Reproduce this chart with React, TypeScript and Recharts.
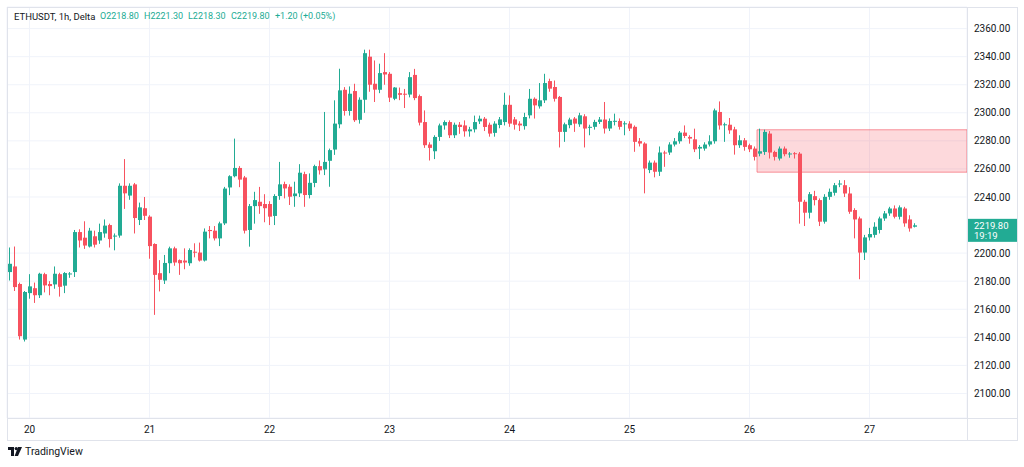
import { ComposedChart, Bar, XAxis, YAxis, CartesianGrid, ReferenceArea, ReferenceLine } from 'recharts'

// ETHUSDT 1h candles (oldest first)
const opens = [
  2186.5, 2190.5, 2178, 2138.4, 2171.5, 2175, 2170, 2185, 2178, 2177.7,
  2185, 2176.8, 2185, 2186.5, 2215, 2211, 2204.7, 2212, 2209, 2214,
  2220, 2212, 2212.5, 2248, 2241, 2249, 2223.6, 2232, 2226, 2206.5,
  2185.7, 2180.5, 2192.8, 2203.4, 2195, 2194.7, 2192.8, 2201, 2200.4, 2194.7,
  2216.5, 2216, 2210.5, 2221.2, 2246.8, 2254.8, 2260.7, 2253.9, 2216.5, 2233.5,
  2236.6, 2235, 2235, 2226.5, 2240.7, 2249.2, 2247.3, 2240.6, 2242.6, 2256.3,
  2241.4, 2250, 2262, 2259.6, 2265.8, 2273.8, 2291.8, 2316.4, 2301.3, 2315.5,
  2295, 2309.3, 2340, 2320.7, 2316.4, 2329, 2327.8, 2310, 2314, 2313.6,
  2313, 2327, 2311.9, 2293.4, 2277.4, 2272.6, 2282.8, 2291, 2293.4, 2284,
  2291.5, 2291, 2286.8, 2288.2, 2293.9, 2295.8, 2291.5, 2285.7, 2291.3, 2293.4,
  2305.7, 2295.3, 2292.3, 2290.5, 2298.2, 2310, 2304.6, 2308.9, 2322.6, 2318.4,
  2311.3, 2286.4, 2291.2, 2295.9, 2291.8, 2297.5, 2289.6, 2290, 2293.5, 2295.2,
  2288.8, 2294, 2294.2, 2292.3, 2292.3, 2290, 2279.8, 2278.1, 2259.2, 2264.5,
  2258, 2271.7, 2271.7, 2277.4, 2279.7, 2285.9, 2282.8, 2281.1, 2274.5, 2274.5,
  2277.4, 2279.7, 2300.6, 2291.5, 2291.5, 2288.2, 2276.9, 2280.4, 2276.9, 2274.5,
  2270.9, 2272.1, 2285.2, 2272.1, 2267.4, 2274.5, 2270.5, 2271.2, 2270.9, 2236.6,
  2228.8, 2240.6, 2237.8, 2222.4, 2240.1, 2243, 2249.6, 2248.4, 2242.5, 2230.7,
  2224.7, 2200.4, 2211.2, 2213, 2216.5, 2224.7, 2228.3, 2231.8, 2225.9, 2231.8,
  2224, 2218.8,
]
const highs = [
  2204, 2204.7, 2179, 2173, 2185, 2179, 2186, 2186, 2180, 2190.5,
  2186, 2186.5, 2186.5, 2216.5, 2217, 2222.7, 2218, 2216, 2221, 2224,
  2221, 2214, 2249.7, 2267, 2249.7, 2250, 2236, 2240, 2227, 2207,
  2195, 2198.7, 2204.6, 2204.6, 2195.5, 2203.4, 2203.4, 2207, 2207.5, 2217.6,
  2219.3, 2219.3, 2222.4, 2247.2, 2255.5, 2281.6, 2262, 2255, 2235, 2243.7,
  2247.2, 2242, 2237, 2242, 2265, 2250.9, 2249, 2250.9, 2263.4, 2258,
  2256.8, 2263, 2266, 2300.6, 2274.5, 2308.9, 2331.4, 2318.3, 2318.8, 2320.7,
  2311, 2345, 2345, 2337.3, 2335, 2342.5, 2329, 2318.3, 2318, 2317,
  2329, 2331.3, 2313, 2301.7, 2279, 2284, 2292.3, 2294.6, 2294.6, 2293,
  2293.4, 2294.6, 2290, 2298, 2298, 2297, 2293, 2294, 2297, 2314.3,
  2312.4, 2297, 2294, 2300, 2317, 2311, 2321.2, 2327.8, 2324.3, 2323,
  2312, 2293, 2296.5, 2297, 2300, 2299, 2291.5, 2295, 2297, 2307.7,
  2296, 2299.4, 2296, 2294, 2294, 2291, 2282, 2279, 2266, 2266,
  2276, 2273, 2279, 2282, 2287, 2291, 2284, 2288.7, 2277, 2279,
  2284, 2303, 2308.1, 2293, 2296.3, 2290, 2284, 2282, 2278, 2276,
  2288.7, 2288, 2287, 2273, 2276, 2276, 2272, 2272, 2272, 2238,
  2243.5, 2244.4, 2239, 2242, 2246, 2250, 2252, 2252, 2247, 2232,
  2226, 2213, 2218, 2222, 2226, 2230, 2233, 2234, 2234, 2233,
  2227, 2221.3,
]
const lows = [
  2180.5, 2173, 2138.4, 2137, 2167.5, 2164.5, 2168, 2172, 2170, 2174.6,
  2169, 2171.5, 2182.4, 2183, 2204, 2203, 2204, 2204, 2206.6, 2211,
  2204, 2202, 2211, 2231.5, 2238, 2214, 2220, 2223.6, 2196, 2156,
  2172.7, 2178, 2185.7, 2191, 2184.5, 2188.5, 2191, 2197, 2194, 2194,
  2210.5, 2209, 2205, 2220, 2241.3, 2254, 2247, 2214, 2204.6, 2221,
  2228, 2222, 2220, 2220, 2238, 2239, 2234.3, 2233, 2240, 2233,
  2239, 2247, 2256, 2255.6, 2247.3, 2270, 2289, 2298, 2298, 2293.5,
  2292.3, 2300, 2315, 2307.7, 2314, 2320, 2307.7, 2309, 2309, 2303.4,
  2311, 2309, 2291, 2275, 2266, 2267, 2280, 2288, 2282, 2282,
  2285, 2283, 2283, 2286, 2292, 2287, 2283, 2283, 2289, 2291,
  2290, 2288, 2287, 2288, 2296, 2295.9, 2303, 2307, 2315, 2308,
  2275.3, 2279.3, 2289, 2286.4, 2290, 2275.3, 2284, 2288, 2292, 2285.2,
  2287, 2291, 2288, 2284, 2287, 2272.2, 2276, 2242.6, 2257, 2254,
  2255, 2261.5, 2270, 2276, 2278, 2282, 2278, 2272, 2267, 2273,
  2276, 2278, 2288, 2279.3, 2285, 2270.2, 2275, 2273, 2272, 2266,
  2269, 2270, 2267.4, 2266, 2266, 2269, 2268, 2267.4, 2221, 2219.3,
  2224.7, 2234, 2219.3, 2221, 2238, 2241, 2247, 2240, 2228, 2210.5,
  2181.4, 2195.1, 2209, 2211, 2214, 2223, 2226.6, 2224.7, 2224, 2218.8,
  2215.3, 2218.3,
]
const closes = [
  2192.4, 2175.8, 2140.8, 2172.3, 2176.3, 2170, 2185.3, 2177, 2176.5, 2185.3,
  2176, 2185.8, 2185.5, 2215, 2209, 2205.4, 2216, 2206, 2215, 2219.6,
  2210, 2212.5, 2248, 2242.6, 2248, 2225, 2232.6, 2226.6, 2205, 2184.5,
  2181, 2193, 2203.4, 2193.3, 2192.8, 2193.3, 2202.2, 2200.6, 2194.7, 2215.3,
  2215.7, 2210.5, 2221.2, 2246, 2254.8, 2260.7, 2252.4, 2216, 2233.5, 2237.8,
  2233.5, 2232, 2226, 2240.7, 2249, 2246.1, 2240.2, 2242.5, 2257.3, 2241.4,
  2250.1, 2262, 2259, 2265, 2273.4, 2292.3, 2316, 2301.3, 2313.6, 2294.7,
  2309.3, 2342.5, 2320, 2316.5, 2328.3, 2327.3, 2310.8, 2318, 2312.8, 2313.4,
  2325.4, 2310.5, 2293, 2276.9, 2275, 2282.8, 2291, 2293.4, 2284, 2291.5,
  2289.9, 2286.8, 2288.2, 2293.4, 2295.8, 2289.9, 2285.2, 2292.3, 2295.3, 2305.7,
  2292.3, 2291.5, 2291, 2297, 2310, 2305.3, 2308.9, 2321.2, 2317.2, 2310,
  2286.4, 2291.8, 2295.2, 2292.3, 2298.2, 2288.8, 2290, 2293.5, 2295.2, 2288.8,
  2294.2, 2294.3, 2290, 2292.5, 2288.8, 2279.3, 2278.1, 2260.3, 2264.5, 2258,
  2271.7, 2271.2, 2277.4, 2279.7, 2285.9, 2283.5, 2281.6, 2274, 2275.7, 2277.4,
  2279.7, 2301.7, 2291, 2291.8, 2287.5, 2276.9, 2280.4, 2275.7, 2274, 2268.6,
  2272.6, 2286.4, 2271.7, 2268.6, 2274.5, 2270.5, 2271, 2271, 2236.6, 2228.8,
  2242, 2237.8, 2222.4, 2240.1, 2243.7, 2248.4, 2249.6, 2242.5, 2229.5, 2224,
  2200.4, 2211.2, 2213.6, 2218.8, 2224.7, 2228.3, 2231.8, 2225.9, 2232.6, 2221.2,
  2217.6, 2219.8,
]

// first candle of each day (00:00) and its label
const dayTicks = [4, 28, 52, 76, 100, 124, 148, 172]
const dayLabels = ['20', '21', '22', '23', '24', '25', '26', '27']
const priceTicks = [2100, 2120, 2140, 2160, 2180, 2200, 2240, 2260, 2280, 2300, 2320, 2340, 2360]
const emptySlots = 10

const lastPrice = 2219.8
const countdown = '19:19'
const zoneStart = 150
const zoneTop = 2287.9
const zoneBottom = 2257.7

const headerParts = [
  { text: 'ETHUSDT, 1h, Delta', left: 14, dark: true },
  { text: 'O2218.80', left: 100 },
  { text: 'H2221.30', left: 144 },
  { text: 'L2218.30', left: 188 },
  { text: 'C2219.80', left: 231 },
  { text: '+1.20 (+0.05%)', left: 275 },
]

const UP = '#22ab94'
const DOWN = '#f7525f'
const LINE = '#e0e3eb'
const TEXT = '#131722'

const data: Record<string, number | undefined>[] = opens.map((o, i) => ({
  t: i, open: o, high: highs[i], low: lows[i], close: closes[i],
}))
for (let i = 0; i < emptySlots; i++) data.push({ t: opens.length + i })

// eslint-disable-next-line @typescript-eslint/no-explicit-any
function Candle(props: any) {
  const { x, y, width, height, payload } = props
  if (!payload || payload.open == null) return null
  const { open, close, high, low } = payload
  const top = Math.min(y, y + height)
  const h = Math.abs(height)
  const k = high === low ? 0 : h / (high - low)
  const yo = top + (high - open) * k
  const yc = top + (high - close) * k
  const color = close >= open ? UP : DOWN
  const bx = Math.round(x + width / 2 - 2)
  return (
    <g>
      <line x1={bx + 1.5} x2={bx + 1.5} y1={top} y2={top + h} stroke={color} strokeWidth={1} />
      <rect x={bx} y={Math.min(yo, yc)} width={4} height={Math.max(1, Math.abs(yo - yc))} fill={color} />
    </g>
  )
}

// eslint-disable-next-line @typescript-eslint/no-explicit-any
function PriceTag(props: any) {
  const { viewBox } = props
  if (!viewBox) return null
  const right = viewBox.x + viewBox.width
  const py = viewBox.y
  return (
    <g>
      <rect x={right} y={py - 6.5} width={50} height={23} fill={UP} />
      <text x={right + 7} y={py + 3.5} fill="#fff" fontSize={9.5}>{lastPrice.toFixed(2)}</text>
      <text x={right + 7} y={py + 14} fill="#fff" fontSize={9.5}>{countdown}</text>
    </g>
  )
}

const line = (s: React.CSSProperties): React.CSSProperties => ({ position: 'absolute', background: LINE, ...s })

export default function App() {
  return (
    <div style={{
      position: 'absolute', left: 0, top: 0, width: 1024, height: 467, background: '#fff',
      fontFamily: 'Roboto, "Open Sans", sans-serif', overflow: 'hidden',
    }}>
      <ComposedChart width={1024} height={467} data={data} margin={{ top: 7, right: 7, bottom: 27, left: 7 }}>
        <CartesianGrid stroke="#f0f3fa" />
        <XAxis
          dataKey="t"
          type="category"
          ticks={dayTicks}
          interval={0}
          tickFormatter={v => dayLabels[dayTicks.indexOf(v as number)] ?? ''}
          tick={{ fill: TEXT, fontSize: 10 }}
          axisLine={false}
          tickLine={false}
          height={22}
        />
        <YAxis
          orientation="right"
          domain={[2082.5, 2375.4]}
          allowDataOverflow
          ticks={priceTicks}
          interval={0}
          tickFormatter={v => (v as number).toFixed(2)}
          tick={{ fill: TEXT, fontSize: 10 }}
          axisLine={false}
          tickLine={false}
          tickSize={5}
          tickMargin={2}
          width={50}
        />
        <ReferenceArea
          x1={zoneStart}
          y1={zoneBottom}
          y2={zoneTop}
          fill={DOWN}
          fillOpacity={0.22}
          stroke={DOWN}
          strokeOpacity={0.6}
          ifOverflow="visible"
        />
        <Bar
          dataKey={(d: Record<string, number>) => (d.open == null ? null : [d.low, d.high])}
          shape={<Candle />}
          isAnimationActive={false}
        />
        <ReferenceLine y={lastPrice} stroke="none" label={<PriceTag />} ifOverflow="visible" />
      </ComposedChart>

      {/* chart frame and axis separators */}
      <div style={{ position: 'absolute', left: 7, top: 7, width: 1009, height: 432, border: `1px solid ${LINE}` }} />
      <div style={line({ left: 967, top: 7, width: 1, height: 433 })} />
      <div style={line({ left: 7, top: 418, width: 1010, height: 1 })} />

      {headerParts.map(p => (
        <div key={p.text} style={{
          position: 'absolute', left: p.left, top: 10, fontSize: p.dark ? 9.5 : 9, lineHeight: '13px',
          color: p.dark ? TEXT : UP, whiteSpace: 'nowrap',
        }}>{p.text}</div>
      ))}

      <svg style={{ position: 'absolute', left: 8, top: 447 }} width={14} height={10}>
        <path d="M0 0H6V9H3V3H0Z" fill={TEXT} />
        <circle cx={8.2} cy={1.6} r={1.6} fill={TEXT} />
        <path d="M10 0H14L10 9H6.6Z" fill={TEXT} />
      </svg>
      <div style={{ position: 'absolute', left: 25, top: 445, fontSize: 10.5, color: TEXT, lineHeight: '14px' }}>
        TradingView
      </div>
    </div>
  )
}
